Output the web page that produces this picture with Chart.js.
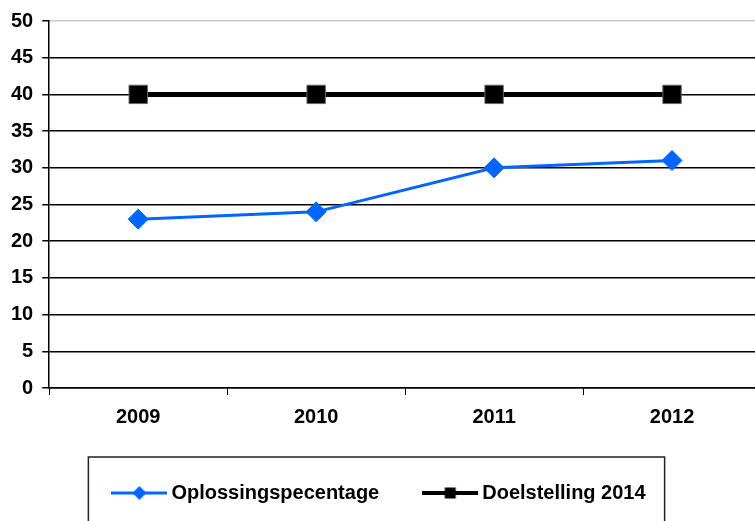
<!DOCTYPE html>
<html>
<head>
<meta charset="utf-8">
<script src="https://cdn.jsdelivr.net/npm/chart.js@4/dist/chart.umd.min.js"></script>
<style>
    html, body { margin: 0; padding: 0; background: #fff; overflow: hidden; width: 755px; height: 521px; }
    #clip { position: relative; width: 755px; height: 521px; overflow: hidden; }
    #wrap { position: absolute; left: 0; top: 0; width: 761px; height: 535px; }
</style>
</head>
<body>
<div id="clip"><div id="wrap"><canvas id="solveChart"></canvas></div></div>
<script>
// Chart data
const years = ['2009', '2010', '2011', '2012'];
const solveRate = [23, 24, 30, 31];
const target2014 = [40, 40, 40, 40];
const yTicks = [0, 5, 10, 15, 20, 25, 30, 35, 40, 45, 50];

const blue = '#0066ff';

// legend sample: line with marker, drawn on a small canvas
function legendSample(color, lineW, shape) {
    const c = document.createElement('canvas');
    c.width = 56;
    c.height = 20;
    const g = c.getContext('2d');
    g.strokeStyle = color;
    g.lineWidth = lineW;
    g.beginPath();
    g.moveTo(0, 10);
    g.lineTo(56, 10);
    g.stroke();
    g.fillStyle = color;
    g.beginPath();
    if (shape === 'diamond') {
        g.moveTo(28 - 7, 10);
        g.lineTo(28, 3);
        g.lineTo(28 + 7, 10);
        g.lineTo(28, 17);
    } else {
        g.rect(28 - 5.5, 10 - 5.5, 11, 11);
    }
    g.closePath();
    g.fill();
    return c;
}

const samples = [legendSample(blue, 3, 'diamond'), legendSample('#000', 4, 'square')];

// border round the legend
const legendFrame = {
    id: 'legendFrame',
    afterDraw(chart) {
        const boxes = chart.legend.legendHitBoxes;
        if (!boxes || !boxes.length) return;
        const first = boxes[0];
        const last = boxes[boxes.length - 1];
        const ctx = chart.ctx;
        ctx.save();
        ctx.strokeStyle = '#222';
        ctx.lineWidth = 1.5;
        ctx.strokeRect(first.left - 29, first.top - 26, (last.left + last.width + 19) - (first.left - 29), 80);
        ctx.restore();
    }
};

Chart.defaults.font.family = '"Liberation Sans", Arial, sans-serif';
Chart.defaults.font.weight = 'bold';
Chart.defaults.color = '#000';

new Chart(document.getElementById('solveChart'), {
    type: 'line',
    data: {
        labels: years,
        datasets: [{
            label: 'Oplossingspecentage',
            data: solveRate,
            borderColor: blue,
            backgroundColor: blue,
            borderWidth: 3,
            pointStyle: 'rectRot',
            pointRadius: 10,
            pointBorderWidth: 1,
            pointBorderColor: blue,
            tension: 0
        }, {
            label: 'Doelstelling 2014',
            data: target2014,
            borderColor: '#000',
            backgroundColor: '#000',
            borderWidth: 5,
            pointStyle: 'rect',
            pointRadius: 13,
            pointBorderWidth: 1,
            pointBorderColor: '#666',
            tension: 0
        }]
    },
    options: {
        responsive: true,
        maintainAspectRatio: false,
        animation: false,
        devicePixelRatio: 1,
        layout: {
            autoPadding: false,
            padding: { top: 21, left: 2, right: 0, bottom: 22 }
        },
        scales: {
            x: {
                offset: true,
                afterFit: (scale) => {
                    scale.height = 46;
                },
                grid: {
                    offset: true,
                    drawOnChartArea: false,
                    drawTicks: true,
                    tickLength: 7,
                    tickColor: '#000'
                },
                border: { display: true, color: '#000', width: 1.5 },
                ticks: {
                    padding: 9,
                    font: { size: 20, weight: 'bold', lineHeight: '26px' }
                }
            },
            y: {
                min: 0,
                max: 50,
                afterBuildTicks: (axis) => {
                    axis.ticks = yTicks.map(v => ({ value: v }));
                },
                grid: {
                    color: (ctx) => ctx.tick && ctx.tick.value === 50 ? '#c8c8c8' : '#000',
                    lineWidth: 1.5,
                    tickLength: 7,
                    tickColor: '#000'
                },
                border: { display: true, color: '#000', width: 1.5 },
                ticks: {
                    padding: 9,
                    font: { size: 20, weight: 'bold' }
                }
            }
        },
        plugins: {
            tooltip: { enabled: false },
            legend: {
                position: 'bottom',
                labels: {
                    usePointStyle: true,
                    pointStyleWidth: 44,
                    padding: 49,
                    font: { size: 20, weight: 'bold' },
                    color: '#000',
                    generateLabels: (chart) => chart.data.datasets.map((ds, i) => ({
                        text: ds.label,
                        pointStyle: samples[i],
                        fillStyle: ds.borderColor,
                        strokeStyle: ds.borderColor,
                        lineWidth: 0,
                        hidden: false,
                        datasetIndex: i
                    }))
                }
            }
        }
    },
    plugins: [legendFrame]
});
</script>
</body>
</html>
